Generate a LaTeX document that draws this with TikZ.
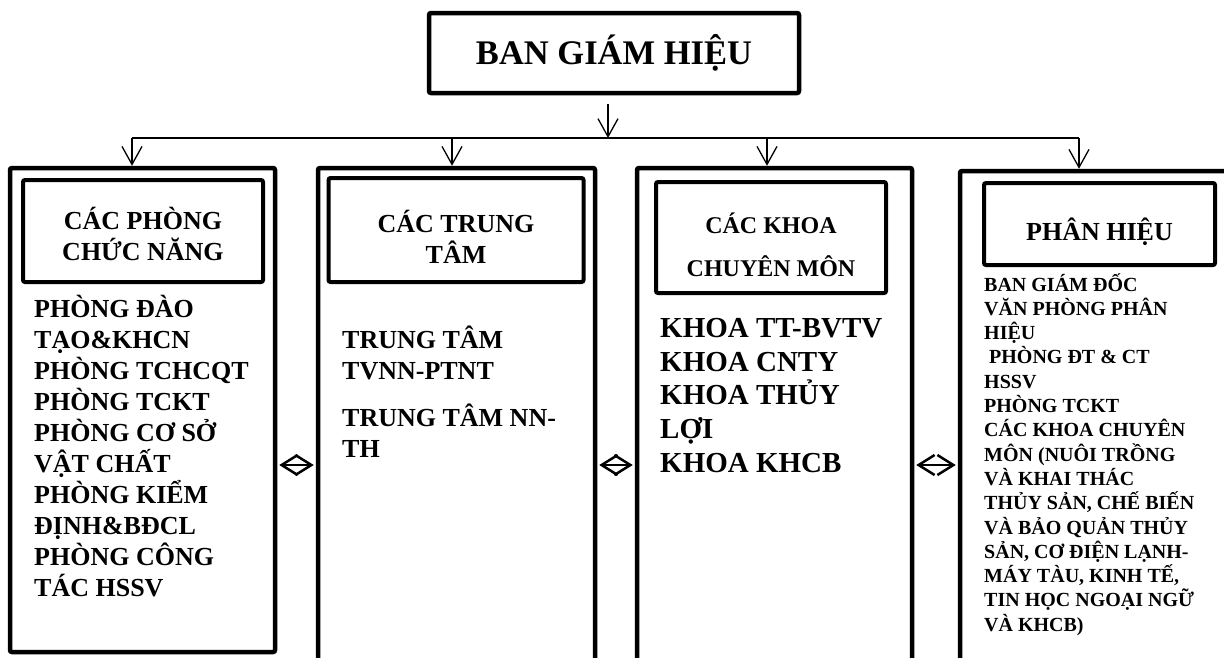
\documentclass[tikz,border=0pt]{standalone}
\usepackage{fontspec}
\setmainfont{Liberation Serif}
\usetikzlibrary{arrows.meta}

\begin{document}
\begin{tikzpicture}[x=1pt, y=-1pt,
    khung/.style={draw, line width=4.5pt, rounded corners=2pt, inner sep=0pt},
    tieude/.style={draw, line width=4pt, rounded corners=2pt, align=center, font=\fontsize{26}{31}\selectfont\bfseries},
    noidung/.style={anchor=north west, align=left, inner sep=0pt},
    >={Straight Barb[length=18pt,width=20pt]}]
    \useasboundingbox (0,0) rectangle (1224,657);
    \clip (0,0) rectangle (1224,657);
    \node[khung, minimum width=370pt, minimum height=80pt, font=\fontsize{34.5}{40}\selectfont\bfseries] (bgh) at (614,53) {BAN GIÁM HIỆU};
    \node[khung, minimum width=265pt, minimum height=484pt] (phong) at (142.5,410) {};
    \node[khung, minimum width=277pt, minimum height=532pt] (trungtam) at (456.5,434) {};
    \node[khung, minimum width=275pt, minimum height=532pt] (khoa) at (774.5,434) {};
    \node[khung, minimum width=290pt, minimum height=529pt] (phanhieu) at (1105,435.5) {};
    \node[tieude, minimum width=240pt, minimum height=102pt] (phongTD) at (143,231) {\rule{0pt}{27.5pt}CÁC PHÒNG\\CHỨC NĂNG};
    \node[tieude, minimum width=255pt, minimum height=104pt] (trungtamTD) at (456,230) {\rule{0pt}{35.5pt}CÁC TRUNG\\TÂM};
    \node[tieude, minimum width=230pt, minimum height=111pt, font=\fontsize{24}{43}\selectfont\bfseries] (khoaTD) at (771,237.5) {\rule{0pt}{35.5pt}CÁC KHOA\\CHUYÊN MÔN};
    \node[tieude, minimum width=231pt, minimum height=82pt] (phanhieuTD) at (1099.5,224) {\rule{0pt}{39pt}PHÂN HIỆU};
    \node[noidung, font=\fontsize{26}{31}\selectfont\bfseries] (dsPhong) at (34,295) {PHÒNG ĐÀO\\TẠO\&KHCN\\PHÒNG TCHCQT\\PHÒNG TCKT\\PHÒNG CƠ SỞ\\VẬT CHẤT\\PHÒNG KIỂM\\ĐỊNH\&BĐCL\\PHÒNG CÔNG\\TÁC HSSV};
    \node[noidung, font=\fontsize{26}{31}\selectfont\bfseries] (dsTrungtam) at (342,326) {TRUNG TÂM\\TVNN-PTNT\\[16pt]TRUNG TÂM NN-\\TH};
    \node[noidung, font=\fontsize{29}{33.7}\selectfont\bfseries] (dsKhoa) at (660,318) {KHOA TT-BVTV\\KHOA CNTY\\KHOA THỦY\\LỢI\\KHOA KHCB};
    \node[noidung, font=\fontsize{20}{24.3}\selectfont\bfseries] (dsPhanhieu) at (984,273) {BAN GIÁM ĐỐC\\VĂN PHÒNG PHÂN\\HIỆU\\\hspace*{5pt}PHÒNG ĐT \& CT\\HSSV\\PHÒNG TCKT\\CÁC KHOA CHUYÊN\\MÔN (NUÔI TRỒNG\\VÀ KHAI THÁC\\THỦY SẢN, CHẾ BIẾN\\VÀ BẢO QUẢN THỦY\\SẢN, CƠ ĐIỆN LẠNH-\\MÁY TÀU, KINH TẾ,\\TIN HỌC NGOẠI NGỮ\\VÀ KHCB)};
    \coordinate (tren) at (608,138);
    \coordinate (r1) at (132,138);
    \coordinate (r2) at (452,138);
    \coordinate (r3) at (767,138);
    \coordinate (r4) at (1079,138);
    \coordinate (giua) at (0,465);
    \draw[line width=1.3pt] (r1) -- (r4);
    \draw[->, line width=1.3pt, shorten <=9pt] (bgh.south -| tren) -- (tren);
    \foreach \r/\k in {r1/phong, r2/trungtam, r3/khoa, r4/phanhieu}
        \draw[->, line width=1.3pt] (\r) -- (\r |- \k.north);
    \foreach \a/\b in {phong/trungtam, trungtam/khoa, khoa/phanhieu}
        \draw[<->, line width=2.5pt, >={Straight Barb[length=16pt,width=20pt]}, shorten <=2pt, shorten >=2pt] (\a.east |- giua) -- (\b.west |- giua);
\end{tikzpicture}
\end{document}
